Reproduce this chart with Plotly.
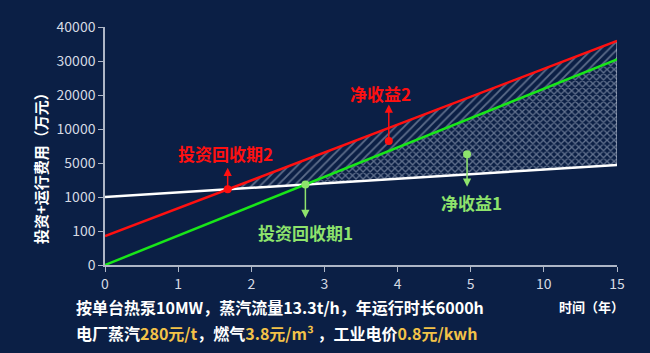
import numpy as np
import plotly.graph_objects as go

# ---- data ----
x_ticks = [0, 1, 2, 3, 4, 5, 10, 15]                      # years (equally spaced ticks)
y_ticks = [0, 100, 1000, 5000, 10000, 20000, 30000, 40000]  # 万元 (equally spaced ticks)
years = [0, 15]
white_cost = [1000, 4760]     # baseline (original scheme)
red_cost = [85, 35900]        # scheme 2
green_cost = [0, 30500]       # scheme 1

net2_point = (3.88, 8250)     # 净收益2 marker (year, 万元)
net1_point = (4.95, 6300)     # 净收益1 marker

BG = "#0B1F45"
RED = "#FF1010"
GREEN = "#19E619"
LGREEN = "#8EE36C"
YEL = "#F3C248"
FONT = "Noto Sans CJK SC"


def xp(v):
    return np.interp(v, x_ticks, np.arange(len(x_ticks)))


def yp(v):
    return np.interp(v, y_ticks, np.arange(len(y_ticks)))


X = xp(np.array(years, dtype=float))
W = yp(np.array(white_cost, dtype=float))
R = yp(np.array(red_cost, dtype=float))
G = yp(np.array(green_cost, dtype=float))


def line_at(P, x):
    return P[0] + (P[1] - P[0]) * (x - X[0]) / (X[1] - X[0])


def intersect(P, Q):
    sp = (P[1] - P[0]) / (X[1] - X[0])
    sq = (Q[1] - Q[0]) / (X[1] - X[0])
    x = X[0] + (Q[0] - P[0]) / (sp - sq)
    return x, line_at(P, x)


xi2, yi2 = intersect(R, W)  # 投资回收期2
xi1, yi1 = intersect(G, W)  # 投资回收期1
xe = X[1]

fig = go.Figure()

# hatched region between red and max(white, green)
fig.add_trace(go.Scatter(
    x=[xi2, xe, xe, xi1, xi2],
    y=[yi2, line_at(R, xe), line_at(G, xe), yi1, yi2],
    mode="lines", fill="toself", fillcolor="rgba(0,0,0,0)",
    line=dict(color="rgba(215,222,235,0.9)", width=1),
    fillpattern=dict(shape="/", fgcolor="rgba(205,215,232,0.85)", bgcolor="rgba(0,0,0,0)",
                     size=6, solidity=0.3, fillmode="overlay"),
    hoverinfo="skip", showlegend=False))

# cross-hatched region between green and white
fig.add_trace(go.Scatter(
    x=[xi1, xe, xe, xi1],
    y=[yi1, line_at(G, xe), line_at(W, xe), yi1],
    mode="lines", fill="toself", fillcolor="rgba(0,0,0,0)",
    line=dict(color="rgba(215,222,235,0.9)", width=1),
    fillpattern=dict(shape="x", fgcolor="rgba(215,224,240,0.85)", bgcolor="rgba(0,0,0,0)",
                     size=5, solidity=0.45, fillmode="overlay"),
    hoverinfo="skip", showlegend=False))

for P, c in [(W, "#FFFFFF"), (R, RED), (G, GREEN)]:
    fig.add_trace(go.Scatter(x=X, y=P, mode="lines", line=dict(color=c, width=2.5),
                             hoverinfo="skip", showlegend=False))

# markers
n2x, n2y = xp(net2_point[0]), yp(net2_point[1])
n1x, n1y = xp(net1_point[0]), yp(net1_point[1])
fig.add_trace(go.Scatter(x=[xi2, n2x], y=[yi2, n2y], mode="markers",
                         marker=dict(color=RED, size=8), hoverinfo="skip", showlegend=False))
fig.add_trace(go.Scatter(x=[xi1, n1x], y=[yi1, n1y], mode="markers",
                         marker=dict(color=LGREEN, size=8), hoverinfo="skip", showlegend=False))

annotations = []
labels = [
    ("投资回收期2", xi2, yi2, RED, -23, -2, 36),
    ("净收益2", n2x, n2y, RED, -38, -8, 47),
    ("投资回收期1", xi1, yi1, LGREEN, 35, 0, -48),
    ("净收益1", n1x, n1y, LGREEN, 34, 4, -48),
]
for txt, x, y, c, alen, xs, ys in labels:
    annotations.append(dict(x=x, y=y, xref="x", yref="y", text="", showarrow=True,
                            ax=0, ay=alen, arrowside="start", startarrowhead=2,
                            startarrowsize=1.1, arrowwidth=1.5, arrowcolor=c))
    annotations.append(dict(x=x, y=y, xref="x", yref="y", text=f"<b>{txt}</b>",
                            showarrow=False, xshift=xs, yshift=ys,
                            font=dict(family=FONT, size=17, color=c)))

# axis titles and footnote
annotations.append(dict(x=-0.127, y=0.424, xref="paper", yref="paper",
                        xanchor="center", yanchor="middle",
                        text="<b>投资+运行费用（万元）</b>", textangle=-90, showarrow=False,
                        font=dict(family=FONT, size=15, color="#FFFFFF")))
annotations.append(dict(x=1.018, y=-0.176, xref="paper", yref="paper",
                        xanchor="right", yanchor="middle",
                        text="<b>时间（年）</b>", showarrow=False,
                        font=dict(family=FONT, size=13, color="#FFFFFF")))
annotations.append(dict(x=-0.06, y=-0.176, xref="paper", yref="paper",
                        xanchor="left", yanchor="middle",
                        text="<b>按单台热泵10MW，蒸汽流量13.3t/h，年运行时长6000h</b>",
                        showarrow=False, font=dict(family=FONT, size=16, color="#FFFFFF")))
annotations.append(dict(x=-0.06, y=-0.286, xref="paper", yref="paper",
                        xanchor="left", yanchor="middle",
                        text=(f"<b>电厂蒸汽<span style='color:{YEL}'>280元/t</span>，燃气"
                              f"<span style='color:{YEL}'>3.8元/m³</span> ，工业电价"
                              f"<span style='color:{YEL}'>0.8元/kwh</span></b>"),
                        showarrow=False, font=dict(family=FONT, size=16, color="#FFFFFF")))

axis_common = dict(showgrid=False, zeroline=False, showline=True, linecolor="#AEB6C6",
                   linewidth=1.5, ticks="outside", tickcolor="#AEB6C6", ticklen=5,
                   tickfont=dict(family=FONT, size=14, color="#D5DAE3"))

fig.update_layout(
    width=650, height=353,
    margin=dict(l=105, r=33, t=27, b=88),
    paper_bgcolor=BG, plot_bgcolor=BG,
    xaxis=dict(range=[0, len(x_ticks) - 1], tickmode="array",
               tickvals=list(range(len(x_ticks))), ticktext=[str(v) for v in x_ticks],
               **axis_common),
    yaxis=dict(range=[0, len(y_ticks) - 1], tickmode="array",
               tickvals=list(range(len(y_ticks))), ticktext=[str(v) for v in y_ticks],
               **axis_common),
    annotations=annotations,
)

fig.write_html("out.html")
